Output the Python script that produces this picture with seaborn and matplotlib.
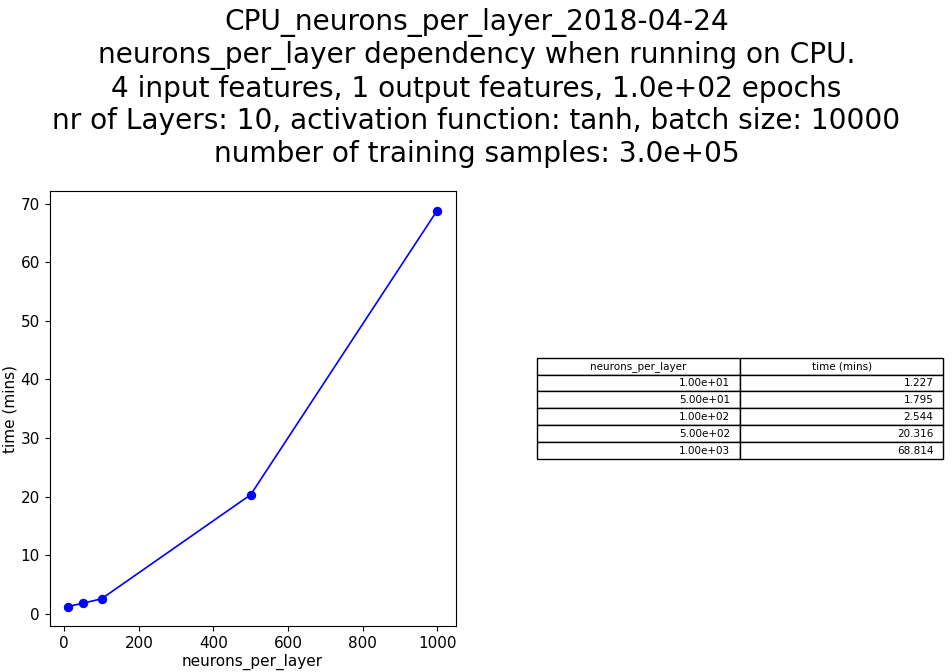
import matplotlib
matplotlib.use("Agg")
import matplotlib.pyplot as plt
import seaborn as sns
import pandas as pd

# data
neurons_per_layer = [10, 50, 100, 500, 1000]
time_mins = [1.227, 1.795, 2.544, 20.316, 68.814]
neuron_labels = ["1.00e+01", "5.00e+01", "1.00e+02", "5.00e+02", "1.00e+03"]
time_labels = ["1.227", "1.795", "2.544", "20.316", "68.814"]

df = pd.DataFrame({"neurons_per_layer": neurons_per_layer, "time (mins)": time_mins})

plt.rcParams['font.family'] = ['DejaVu Sans']

fig = plt.figure(figsize=(9.53, 6.72), dpi=100)
ax = fig.add_axes([0.052, 0.068, 0.426, 0.648])
ax_tab = fig.add_axes([0.563, 0.068, 0.427, 0.648])

sns.lineplot(data=df, x="neurons_per_layer", y="time (mins)", marker="o",
             color="blue", markeredgecolor="blue", markersize=6,
             linewidth=1.2, ax=ax)
ax.tick_params(labelsize=11)
ax.set_xlabel("neurons_per_layer", fontsize=11, labelpad=2)
ax.set_ylabel("time (mins)", fontsize=11, labelpad=2)
ax.set_xticks([0, 200, 400, 600, 800, 1000])
ax.set_yticks([0, 10, 20, 30, 40, 50, 60, 70])

ax_tab.axis("off")
cells = [[a, b] for a, b in zip(neuron_labels, time_labels)]
tab = ax_tab.table(cellText=cells, colLabels=["neurons_per_layer", "time (mins)"],
                   loc="center", bbox=[0, 0.384, 1.0, 0.233])
tab.auto_set_font_size(False)
tab.set_fontsize(7.5)
for (r, c), cell in tab.get_celld().items():
    if r == 0:
        cell.get_text().set_ha("center")
    else:
        cell.get_text().set_ha("right")
        cell.PAD = 0.05

fig.suptitle("CPU_neurons_per_layer_2018-04-24\n"
             "neurons_per_layer dependency when running on CPU.\n"
             "4 input features, 1 output features, 1.0e+02 epochs\n"
             "nr of Layers: 10, activation function: tanh, batch size: 10000\n"
             "number of training samples: 3.0e+05",
             fontsize=20.2, y=0.988)

fig.savefig("out.png", dpi=100)
